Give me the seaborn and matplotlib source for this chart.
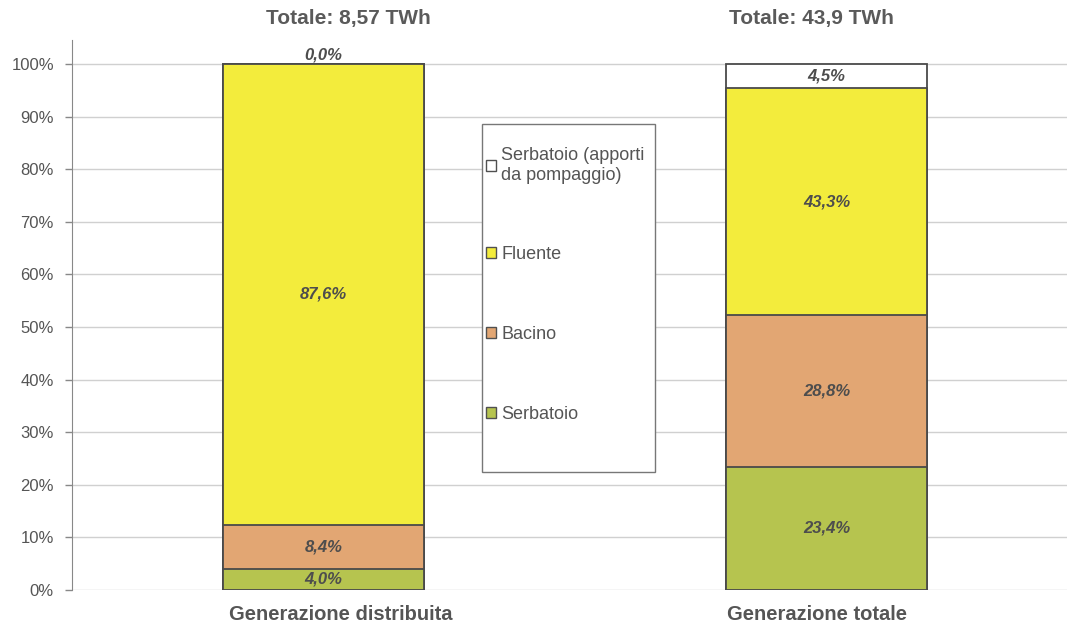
import numpy as np
import pandas as pd
import seaborn as sns
import matplotlib.pyplot as plt
import matplotlib.transforms as mtransforms
from matplotlib.patches import Patch, Rectangle

# data (shares in %)
categories = ['Generazione distribuita', 'Generazione totale']
totals = ['Totale: 8,57 TWh', 'Totale: 43,9 TWh']
serbatoio = [4.0, 23.4]
bacino = [8.4, 28.8]
fluente = [87.6, 43.3]
pompaggio = [0.0, 4.5]

series_names = ['Serbatoio', 'Bacino', 'Fluente', 'Serbatoio (apporti\nda pompaggio)']
series_colors = ['#b6c44f', '#e2a673', '#f3ec3c', '#ffffff']

df = pd.DataFrame({'cat': categories, 's0': serbatoio, 's1': bacino,
                   's2': fluente, 's3': pompaggio})
cols = ['s0', 's1', 's2', 's3']
cum = df[cols].cumsum(axis=1)

sns.set_style('white')
plt.rcParams['font.family'] = ['Liberation Sans', 'DejaVu Sans']

fig = plt.figure(figsize=(10.67, 6.25), dpi=100)
ax = fig.add_axes([72 / 1067, 35 / 625, (1067 - 72) / 1067, 550 / 625])

# stacked bars: draw the tallest cumulative layer first
for i in reversed(range(len(cols))):
    sns.barplot(x=df['cat'], y=cum[cols[i]], color=series_colors[i], width=0.4,
                edgecolor='#4a4a4a', linewidth=1.3, saturation=1, errorbar=None,
                ax=ax, zorder=3)

# value labels
for j in range(len(categories)):
    for i, c in enumerate(cols):
        v = df.loc[j, c]
        top = cum.loc[j, c]
        y = top + 1.8 if v == 0 else top - v / 2
        ax.text(j, y, f'{v:.1f}%'.replace('.', ','), ha='center', va='center',
                fontsize=12, fontstyle='italic', fontweight='bold', color='#4d4d4d',
                zorder=5)

# totals above the bars (the original text sits a little off-centre)
title_shift = [0.05, -0.03]
for j, t in enumerate(totals):
    ax.text(j + title_shift[j], 108.7, t, ha='center', va='center', fontsize=15,
            fontweight='bold', color='#5a5a5a', clip_on=False)

ax.set_xlim(-0.5, 1.478)
ax.set_ylim(0, 104.56)
ax.set_yticks(np.arange(0, 101, 10))
ax.set_yticklabels([f'{t}%' for t in range(0, 101, 10)])
ax.yaxis.grid(True, color='#d0d0d0', linewidth=1)
ax.set_axisbelow(True)
ax.set_xlabel('')
ax.set_ylabel('')
ax.tick_params(axis='y', left=True, length=5, width=1, color='#888888',
               labelsize=12, labelcolor='#555555', pad=8)
ax.tick_params(axis='x', length=0, labelsize=14.5, labelcolor='#555555', pad=11)
label_shift_px = [17, -10]
for lbl, dx in zip(ax.get_xticklabels(), label_shift_px):
    lbl.set_fontweight('bold')
    lbl.set_transform(lbl.get_transform() +
                      mtransforms.ScaledTranslation(dx / 100, 0, fig.dpi_scale_trans))
for s in ['top', 'right', 'bottom']:
    ax.spines[s].set_visible(False)
ax.spines['left'].set_color('#888888')

# legend box and entries (top to bottom reversed from stacking)
fig.patches.append(Rectangle((482 / 1067, (625 - 472) / 625), 173 / 1067, 348 / 625,
                             transform=fig.transFigure, facecolor='white',
                             edgecolor='#777777', linewidth=1, zorder=4))
handles = [Patch(facecolor=series_colors[i], edgecolor='#505050', linewidth=1,
                 label=series_names[i]) for i in reversed(range(4))]
fig.legend(handles=handles, loc='upper left', bbox_to_anchor=(486 / 1067, (625 - 147) / 625),
           frameon=False, fontsize=13, handlelength=0.55, handleheight=0.55,
           handletextpad=0.3, labelspacing=3.47, borderpad=0, borderaxespad=0,
           labelcolor='#555555')

fig.savefig('out.png', dpi=100)
